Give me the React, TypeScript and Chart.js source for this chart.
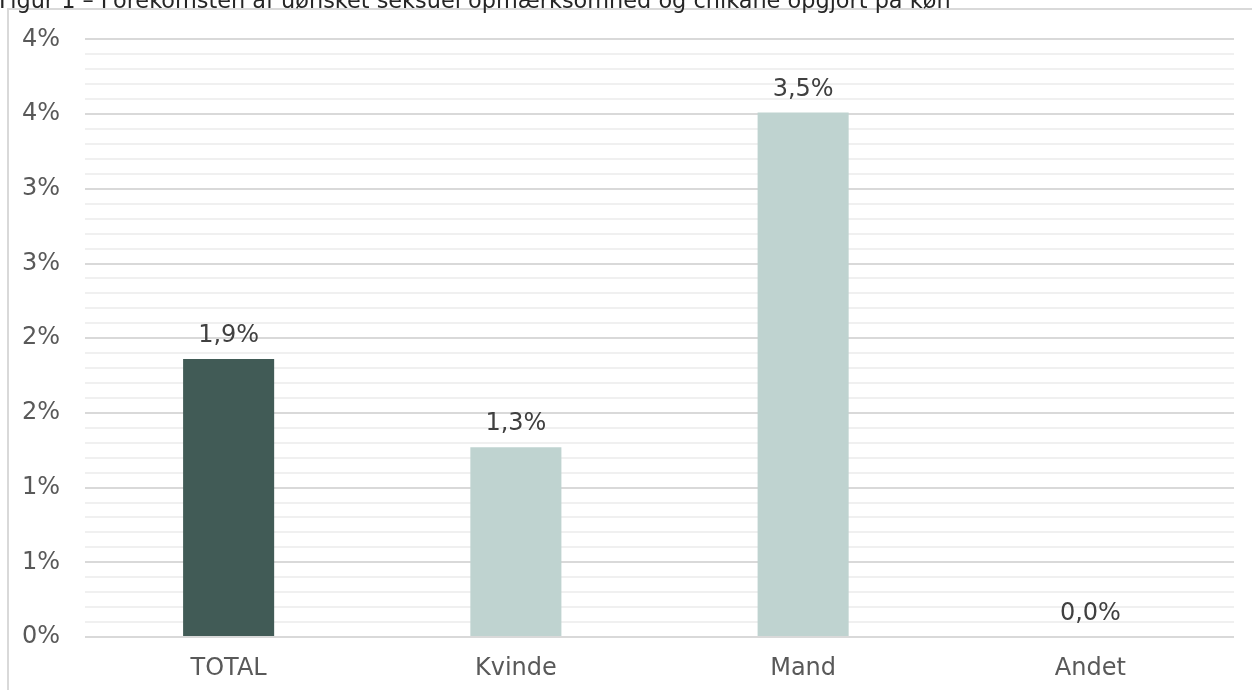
import React, { useEffect, useRef } from "react";
import { Chart, registerables } from "chart.js";

Chart.register(...registerables);

const TITLE = "Figur 1 – Forekomsten af uønsket seksuel opmærksomhed og chikane opgjort på køn";
const categories = ["TOTAL", "Kvinde", "Mand", "Andet"];
const values = [1.86, 1.27, 3.51, 0.0];
const barColors = ["#415B56", "#BFD3D0", "#BFD3D0", "#BFD3D0"];
const yMin = 0;
const yMax = 4;
const yStep = 0.1;
const FONT = "'DejaVu Sans', Verdana, sans-serif";

const fmtPct = (v: number) => v.toFixed(1).replace(".", ",") + "%";

const dataLabelPlugin = {
  id: "dataLabels",
  afterDatasetsDraw(chart: any) {
    const ctx = chart.ctx;
    const meta = chart.getDatasetMeta(0);
    ctx.save();
    ctx.font = `24px ${FONT}`;
    ctx.fillStyle = "#404040";
    ctx.textAlign = "center";
    ctx.textBaseline = "alphabetic";
    meta.data.forEach((el: any, i: number) => {
      ctx.fillText(fmtPct(values[i]), el.x, el.y - 17);
    });
    ctx.restore();
  },
};

export default function App() {
  const ref = useRef<HTMLCanvasElement>(null);
  useEffect(() => {
    if (!ref.current) return;
    const chart = new Chart(ref.current, {
      type: "bar",
      data: {
        labels: categories,
        datasets: [
          {
            data: values,
            backgroundColor: barColors,
            borderWidth: 0,
            categoryPercentage: 1,
            barPercentage: 0.317,
          },
        ],
      },
      options: {
        responsive: false,
        animation: false,
        devicePixelRatio: 1,
        layout: { padding: { left: 0, right: 18, top: 37, bottom: 0 } },
        plugins: { legend: { display: false }, tooltip: { enabled: false }, title: { display: false } },
        scales: {
          x: {
            grid: { display: false, drawTicks: false },
            border: { display: false },
            ticks: { color: "#595959", font: { family: FONT, size: 24 }, padding: 17 },
            afterFit: (s: any) => { s.height = 53; },
          },
          y: {
            min: yMin,
            max: yMax,
            border: { display: false },
            grid: {
              drawTicks: false,
              color: (c: any) => (c.index % 5 === 0 ? "#d9d9d9" : "#f0f0f0"),
              lineWidth: 2,
            },
            ticks: {
              stepSize: yStep,
              autoSkip: false,
              maxTicksLimit: 100,
              padding: 25,
              color: "#595959",
              font: { family: FONT, size: 24 },
              callback: (v: any, i: number) => (i % 5 === 0 ? Math.round(Number(v)) + "%" : ""),
            },
            afterFit: (s: any) => { s.width = 85; },
          },
        },
      },
      plugins: [dataLabelPlugin],
    });
    return () => chart.destroy();
  }, []);

  return (
    <div style={{ position: "fixed", left: 0, top: 0, width: 1252, height: 690, overflow: "hidden", background: "#fff" }}>
      <div style={{ position: "absolute", left: 7, top: 8, width: 1400, height: 800, borderLeft: "2px solid #d9d9d9", borderTop: "2px solid #d9d9d9" }} />
      <canvas ref={ref} width={1252} height={690} style={{ position: "absolute", left: 0, top: 0 }} />
      <div style={{ position: "absolute", left: -1, top: -11, fontFamily: FONT, fontSize: 22.4, lineHeight: "22px", color: "#262626", whiteSpace: "nowrap", background: "transparent" }}>
        {TITLE}
      </div>
    </div>
  );
}
